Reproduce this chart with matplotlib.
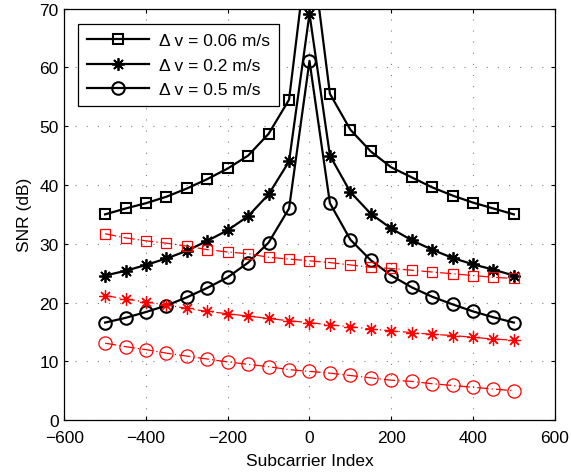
import numpy as np
import matplotlib.pyplot as plt

plt.rcParams['font.family'] = ['Liberation Sans', 'DejaVu Sans']

subcarrier = np.arange(-500, 501, 50)

# simulated SNR (black) for each velocity mismatch
snr_006 = [35.0, 36.0, 36.9, 38.0, 39.4, 41.0, 42.8, 45.0, 48.7, 54.5, 83.0,
           55.5, 49.4, 45.7, 43.0, 41.3, 39.6, 38.2, 37.0, 36.0, 35.0]
snr_02 = [24.6, 25.4, 26.4, 27.5, 28.8, 30.5, 32.3, 34.7, 38.4, 44.0, 69.1,
          45.0, 38.8, 35.1, 32.6, 30.6, 29.0, 27.6, 26.5, 25.6, 24.6]
snr_05 = [16.6, 17.4, 18.4, 19.5, 20.9, 22.5, 24.3, 26.8, 30.2, 36.0, 61.1,
          36.9, 30.7, 27.2, 24.6, 22.6, 21.0, 19.7, 18.5, 17.5, 16.6]

# red curves
red_006 = [31.7, 31.0, 30.5, 30.1, 29.6, 29.0, 28.6, 28.3, 27.7, 27.4, 27.1,
           26.8, 26.4, 26.0, 25.8, 25.5, 25.2, 24.9, 24.6, 24.3, 24.1]
red_02 = [21.2, 20.6, 20.1, 19.6, 19.0, 18.5, 18.1, 17.7, 17.3, 16.9, 16.6,
          16.2, 15.9, 15.5, 15.2, 14.9, 14.6, 14.4, 14.1, 13.8, 13.6]
red_05 = [13.1, 12.5, 12.0, 11.4, 10.9, 10.4, 9.9, 9.5, 9.1, 8.6, 8.3,
          8.0, 7.6, 7.2, 6.8, 6.6, 6.2, 5.9, 5.6, 5.3, 5.0]

labels = ['\u0394 v = 0.06 m/s', '\u0394 v = 0.2 m/s', '\u0394 v = 0.5 m/s']

# asterisk: '+' and 'x' overlaid
asterisk = (8, 2, 0)

fig = plt.figure(figsize=(5.71, 4.77), dpi=100)
ax = fig.add_axes([0.1125, 0.117, 0.859, 0.863])

ax.plot(subcarrier, snr_006, 'k-', marker='s', lw=1.6, label=labels[0],
        markersize=7.5, markerfacecolor='none', markeredgewidth=1.5)
ax.plot(subcarrier, snr_02, 'k-', marker=asterisk, lw=1.6, label=labels[1],
        markersize=9, markeredgewidth=1.3)
ax.plot(subcarrier, snr_05, 'k-', marker='o', lw=1.6, label=labels[2],
        markersize=9, markerfacecolor='none', markeredgewidth=1.5)

rk = dict(color='red', lw=0.9, ls=(0, (9, 2.5, 1, 2.5)), markerfacecolor='none',
          markeredgewidth=0.9)
ax.plot(subcarrier, red_006, marker='s', markersize=7.5, **rk)
ax.plot(subcarrier, red_02, marker=asterisk, markersize=9, **rk)
ax.plot(subcarrier, red_05, marker='o', markersize=9.5, **rk)

ax.set_xlim(-600, 600)
ax.set_ylim(0, 70)
ax.set_xticks(np.arange(-600, 601, 200))
ax.set_yticks(np.arange(0, 71, 10))
ax.set_xticklabels(['\u2212600', '\u2212400', '\u2212200', '0', '200', '400', '600'])
ax.tick_params(direction='in', top=True, right=True, labelsize=12.5, length=3)
ax.tick_params(axis='x', pad=7)
ax.tick_params(axis='y', pad=4)
ax.grid(True, color='gray', ls=(0, (1, 9)), lw=0.8)
for s in ax.spines.values():
    s.set_linewidth(0.9)

ax.set_xlabel('Subcarrier Index', fontsize=12.5, labelpad=6)
ax.set_ylabel('SNR (dB)', fontsize=12.5, labelpad=5)

leg = ax.legend(loc='upper left', fontsize=12.5, handlelength=3.6, fancybox=False,
                framealpha=1, edgecolor='black', borderpad=0.5, labelspacing=0.55,
                handletextpad=0.6, bbox_to_anchor=(0.01, 0.983))
leg.get_frame().set_linewidth(0.9)

fig.savefig('out.png', dpi=100)
